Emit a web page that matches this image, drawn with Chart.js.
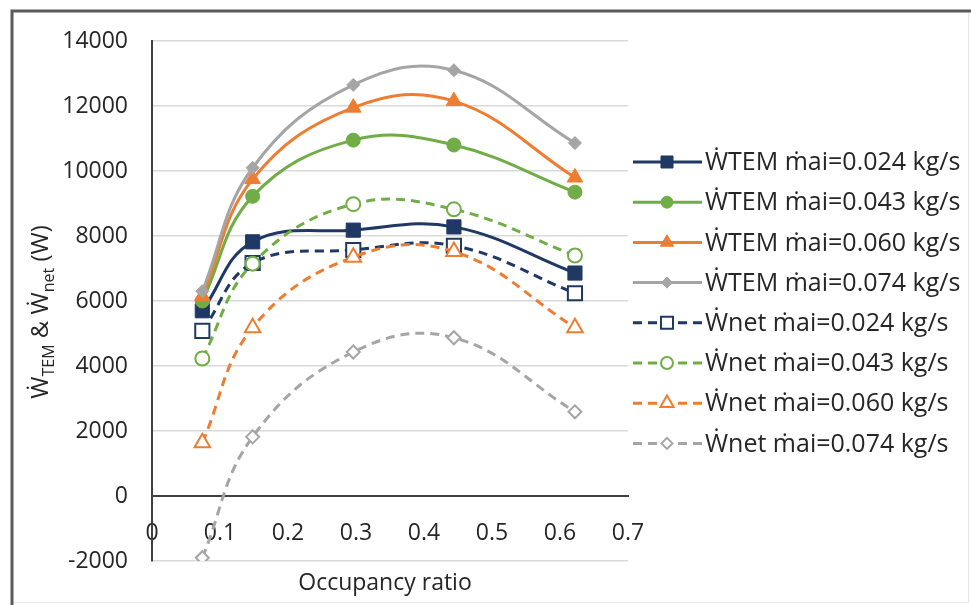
<!DOCTYPE html>
<html>
<head>
<meta charset="utf-8">
<script src="https://cdn.jsdelivr.net/npm/chart.js@4.4.0/dist/chart.umd.min.js"></script>
<style>
    html, body { margin: 0; padding: 0; background: #fff; }
    canvas { display: block; }
</style>
</head>
<body>
<canvas id="powerChart" width="971" height="605"></canvas>
<script>
// occupancy ratio on the x axis
const occupancyRatio = [0.074, 0.148, 0.296, 0.444, 0.622];

// W_TEM (W)
const wtem024 = [5700, 7820, 8180, 8280, 6860];
const wtem043 = [6000, 9220, 10950, 10800, 9350];
const wtem060 = [6150, 9750, 11950, 12150, 9800];
const wtem074 = [6300, 10100, 12650, 13100, 10860];

// W_net (W)
const wnet024 = [5080, 7170, 7570, 7700, 6240];
const wnet043 = [4230, 7150, 8980, 8820, 7400];
const wnet060 = [1640, 5180, 7350, 7520, 5180];
const wnet074 = [-1900, 1820, 4430, 4870, 2590];

const seriesLabels = [
    'ẆTEM ṁai=0.024 kg/s', 'ẆTEM ṁai=0.043 kg/s', 'ẆTEM ṁai=0.060 kg/s', 'ẆTEM ṁai=0.074 kg/s',
    'Ẇnet ṁai=0.024 kg/s', 'Ẇnet ṁai=0.043 kg/s', 'Ẇnet ṁai=0.060 kg/s', 'Ẇnet ṁai=0.074 kg/s'
];
const seriesValues = [wtem024, wtem043, wtem060, wtem074, wnet024, wnet043, wnet060, wnet074];

const yTicks = [-2000, 0, 2000, 4000, 6000, 8000, 10000, 12000, 14000];
const xTicks = [0, 0.1, 0.2, 0.3, 0.4, 0.5, 0.6, 0.7];

const NAVY = '#1F3864';
const GREEN = '#70AD47';
const ORANGE = '#ED7D31';
const GRAY = '#A5A5A5';
const FONT = "'Open Sans', sans-serif";
const TEXT = '#262626';

const styles = [
    { color: NAVY, marker: 'rect', r: 10, open: false },
    { color: GREEN, marker: 'circle', r: 7, open: false },
    { color: ORANGE, marker: 'triangle', r: 9, open: false },
    { color: GRAY, marker: 'rectRot', r: 6.5, open: false },
    { color: NAVY, marker: 'rect', r: 10, open: true },
    { color: GREEN, marker: 'circle', r: 7, open: true },
    { color: ORANGE, marker: 'triangle', r: 9, open: true },
    { color: GRAY, marker: 'rectRot', r: 6.5, open: true }
];

const datasets = seriesValues.map((vals, i) => {
    const s = styles[i];
    return {
        label: seriesLabels[i],
        data: vals.map((v, k) => ({ x: occupancyRatio[k], y: v })),
        borderColor: s.color,
        borderWidth: 3,
        borderDash: s.open ? [9, 6] : [],
        tension: 0.4,
        pointStyle: s.marker,
        pointRadius: s.r,
        pointBorderWidth: s.open ? 2 : 1,
        pointBackgroundColor: s.open ? '#ffffff' : s.color,
        pointBorderColor: s.color,
        order: -i
    };
});

const framePlugin = {
    id: 'frame',
    beforeDraw(chart) {
        const ctx = chart.ctx;
        ctx.save();
        ctx.fillStyle = '#ffffff';
        ctx.fillRect(0, 0, chart.width, chart.height);
        ctx.strokeStyle = '#E6E6E6';
        ctx.lineWidth = 1;
        ctx.strokeRect(12.5, 11.5, chart.width - 15, chart.height - 14);
        ctx.strokeStyle = '#5A5A5A';
        ctx.lineWidth = 3;
        ctx.beginPath();
        ctx.moveTo(12, chart.height);
        ctx.lineTo(12, 11);
        ctx.lineTo(chart.width, 11);
        ctx.stroke();
        ctx.restore();
    }
};

const titlesPlugin = {
    id: 'titles',
    afterDraw(chart) {
        const ctx = chart.ctx;
        const area = chart.chartArea;
        ctx.save();
        ctx.fillStyle = TEXT;

        // x title
        ctx.font = `23px ${FONT}`;
        ctx.textAlign = 'center';
        ctx.textBaseline = 'alphabetic';
        ctx.fillText('Occupancy ratio', (area.left + area.right) / 2 - 5, 590);

        // y title with subscripts
        const parts = [
            ['Ẇ', false], ['TEM', true], [' & Ẇ', false], ['net', true], [' (W)', false]
        ];
        const mainFont = `24px ${FONT}`;
        const subFont = `16px ${FONT}`;
        let total = 0;
        parts.forEach(([t, sub]) => {
            ctx.font = sub ? subFont : mainFont;
            total += ctx.measureText(t).width;
        });
        ctx.translate(48, 312);
        ctx.rotate(-Math.PI / 2);
        ctx.textAlign = 'left';
        let x = -total / 2;
        parts.forEach(([t, sub]) => {
            ctx.font = sub ? subFont : mainFont;
            ctx.fillText(t, x, sub ? 6 : 0);
            x += ctx.measureText(t).width;
        });
        ctx.restore();
    }
};

const legendPlugin = {
    id: 'sideLegend',
    afterDraw(chart) {
        const ctx = chart.ctx;
        ctx.save();
        chart.data.datasets.forEach((ds, i) => {
            const y = 162 + i * 40.2;
            ctx.strokeStyle = ds.borderColor;
            ctx.lineWidth = 3;
            ctx.setLineDash(ds.borderDash);
            ctx.beginPath();
            ctx.moveTo(633, y);
            ctx.lineTo(702, y);
            ctx.stroke();
            ctx.setLineDash([]);
            ctx.fillStyle = ds.pointBackgroundColor;
            ctx.strokeStyle = ds.pointBorderColor;
            ctx.lineWidth = ds.pointBorderWidth;
            Chart.helpers.drawPoint(ctx, {
                pointStyle: ds.pointStyle,
                radius: ds.pointRadius * 0.85,
                borderWidth: ds.pointBorderWidth,
                rotation: 0
            }, 667, y);
            ctx.fillStyle = TEXT;
            ctx.font = `25px ${FONT}`;
            ctx.textAlign = 'left';
            ctx.textBaseline = 'middle';
            ctx.fillText(ds.label, 705, y + 1);
        });
        ctx.restore();
    }
};

new Chart(document.getElementById('powerChart'), {
    type: 'line',
    data: { datasets },
    options: {
        responsive: false,
        animation: false,
        layout: { padding: { left: 12, top: 41, right: 343, bottom: 44 } },
        plugins: {
            legend: { display: false },
            tooltip: { enabled: false }
        },
        scales: {
            x: {
                type: 'linear',
                position: { y: 0 },
                min: 0,
                max: 0.7,
                afterFit: s => { s.height = 0; },
                afterBuildTicks: s => { s.ticks = xTicks.map(v => ({ value: v })); },
                grid: { display: false, drawTicks: false },
                border: { color: '#404040', width: 2 },
                ticks: {
                    padding: 24,
                    color: TEXT,
                    font: { family: FONT, size: 23 },
                    callback: v => (v === 0 ? '0' : v.toFixed(1))
                }
            },
            y: {
                min: -2000,
                max: 14000,
                afterFit: s => { s.width = 140; },
                afterBuildTicks: s => { s.ticks = yTicks.map(v => ({ value: v })); },
                grid: { color: '#D9D9D9', lineWidth: 1.5, drawTicks: false },
                border: { color: '#404040', width: 2 },
                ticks: {
                    padding: 24,
                    color: TEXT,
                    font: { family: FONT, size: 23 },
                    callback: v => String(v)
                }
            }
        }
    },
    plugins: [framePlugin, titlesPlugin, legendPlugin]
});
</script>
</body>
</html>
